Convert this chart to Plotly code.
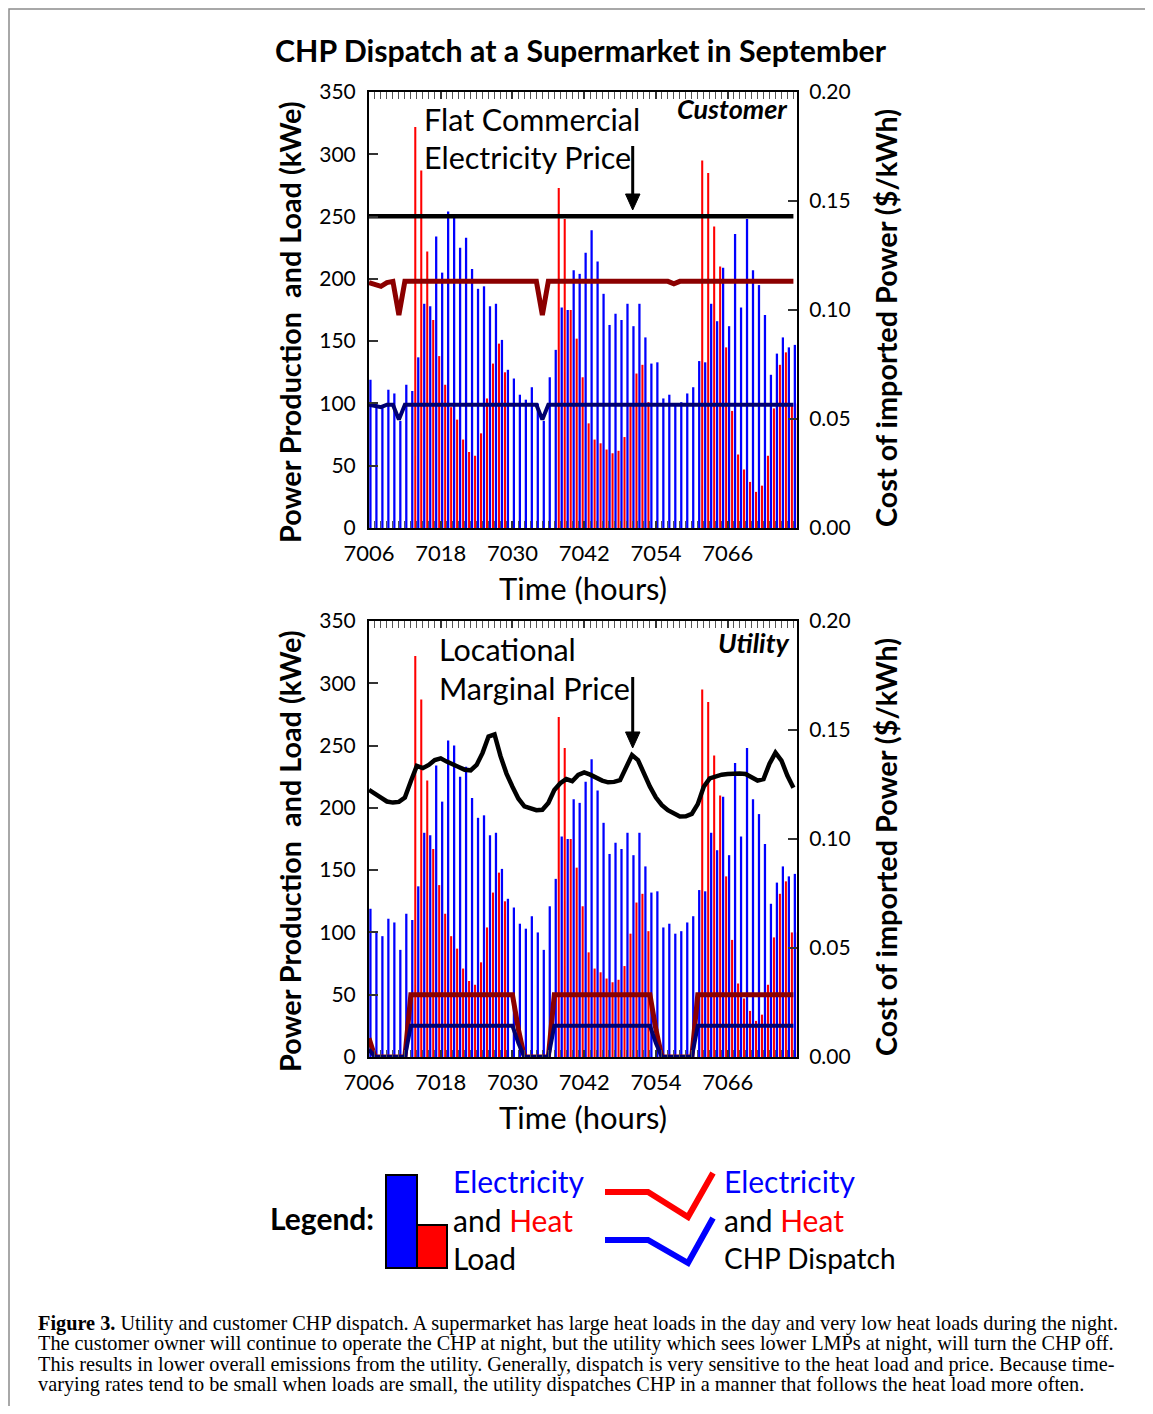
import plotly.graph_objects as go

# page is 1153x1414; browser body keeps its default 8px margin,
# so the figure is made 16px smaller and positions are shifted by 8px
PAGE_W, PAGE_H = 1153, 1414
MARGIN = 8
W, H = PAGE_W - 2 * MARGIN, PAGE_H - 2 * MARGIN

# ---------------- data ----------------
hours = list(range(7006, 7078))

elec_load = [119, 101, 97, 111, 108, 86, 115, 110, 137, 180, 178, 234, 205, 254, 250, 225,
             233, 208, 192, 194, 178, 180, 151, 127, 120, 107, 103, 113, 100, 86, 121, 143,
             177, 175, 207, 204, 221, 239, 214, 188, 163, 172, 167, 180, 162, 180, 153, 132,
             133, 104, 107, 99, 101, 108, 113, 134, 133, 180, 166, 209, 162, 236, 177, 248,
             207, 195, 171, 123, 140, 153, 145, 147]

heat_load = [0, 0, 0, 0, 0, 0, 0, 322, 287, 222, 167, 138, 115, 97, 87, 71,
             61, 58, 76, 104, 132, 148, 125, 0, 0, 0, 0, 0, 0, 0, 0, 273,
             248, 175, 152, 121, 84, 71, 68, 63, 60, 62, 73, 99, 124, 131, 101, 0,
             0, 0, 0, 0, 0, 0, 0, 295, 285, 242, 210, 145, 94, 59, 47, 37,
             29, 34, 58, 96, 131, 141, 100, 100]

# customer dispatch (flat commercial price)
cust_heat_chp = [197, 196, 194, 197, 198, 171, 198, 198, 198, 198, 198, 198, 198, 198, 198, 198,
                 198, 198, 198, 198, 198, 198, 198, 198, 198, 198, 198, 198, 198, 171, 198, 198,
                 198, 198, 198, 198, 198, 198, 198, 198, 198, 198, 198, 198, 198, 198, 198, 198,
                 198, 198, 198, 196, 198, 198, 198, 198, 198, 198, 198, 198, 198, 198, 198, 198,
                 198, 198, 198, 198, 198, 198, 198, 198]
cust_elec_chp = [99, 98, 97, 99, 99, 87, 99, 99, 99, 99, 99, 99, 99, 99, 99, 99,
                 99, 99, 99, 99, 99, 99, 99, 99, 99, 99, 99, 99, 99, 87, 99, 99,
                 99, 99, 99, 99, 99, 99, 99, 99, 99, 99, 99, 99, 99, 99, 99, 99,
                 99, 99, 99, 99, 99, 99, 99, 99, 99, 99, 99, 99, 99, 99, 99, 99,
                 99, 99, 99, 99, 99, 99, 99, 99]
flat_price = [0.143] * 72

# utility dispatch (locational marginal price)
util_heat_chp = [15, 0, 0, 0, 0, 0, 0, 50, 50, 50, 50, 50, 50, 50, 50, 50,
                 50, 50, 50, 50, 50, 50, 50, 50, 50, 22, 0, 0, 0, 0, 0, 50,
                 50, 50, 50, 50, 50, 50, 50, 50, 50, 50, 50, 50, 50, 50, 50, 50,
                 22, 0, 0, 0, 0, 0, 0, 50, 50, 50, 50, 50, 50, 50, 50, 50,
                 50, 50, 50, 50, 50, 50, 50, 50]
util_elec_chp = [6, 0, 0, 0, 0, 0, 0, 25, 25, 25, 25, 25, 25, 25, 25, 25,
                 25, 25, 25, 25, 25, 25, 25, 25, 25, 11, 0, 0, 0, 0, 0, 25,
                 25, 25, 25, 25, 25, 25, 25, 25, 25, 25, 25, 25, 25, 25, 25, 25,
                 11, 0, 0, 0, 0, 0, 0, 25, 25, 25, 25, 25, 25, 25, 25, 25,
                 25, 25, 25, 25, 25, 25, 25, 25]
lmp_price = [0.1225, 0.1210, 0.1190, 0.1172, 0.1167, 0.1170, 0.1190, 0.1265, 0.1335, 0.1325, 0.1340, 0.1362,
             0.1370, 0.1355, 0.1340, 0.1330, 0.1318, 0.1315, 0.1340, 0.1395, 0.1470, 0.1480, 0.1380, 0.1300,
             0.1240, 0.1185, 0.1150, 0.1140, 0.1132, 0.1134, 0.1165, 0.1225, 0.1256, 0.1275, 0.1265, 0.1294,
             0.1305, 0.1295, 0.1280, 0.1268, 0.1260, 0.1262, 0.1270, 0.1330, 0.1385, 0.1362, 0.1300, 0.1240,
             0.1190, 0.1155, 0.1132, 0.1115, 0.1103, 0.1104, 0.1115, 0.1160, 0.1240, 0.1278, 0.1289, 0.1295,
             0.1298, 0.1300, 0.1300, 0.1298, 0.1285, 0.1268, 0.1275, 0.1345, 0.1396, 0.1360, 0.1290, 0.1235]

x_ticks = [7006, 7018, 7030, 7042, 7054, 7066]

# ---------------- helpers (page pixel -> paper) ----------------
def X(px):
    return (px - MARGIN) / W

def Y(py):
    return 1 - (py - MARGIN) / H

FONT = "Lato"
BLUE = "#0000ff"
RED = "#ff0000"
DRED = "#8b0000"
NAVY = "#000070"

fig = go.Figure()

panels = [
    dict(xa="x", ya="y", ya2="y2", heat=cust_heat_chp, elec=cust_elec_chp, price=flat_price),
    dict(xa="x2", ya="y3", ya2="y4", heat=util_heat_chp, elec=util_elec_chp, price=lmp_price),
]
for p in panels:
    fig.add_trace(go.Bar(x=hours, y=elec_load, xaxis=p["xa"], yaxis=p["ya"], marker_color=BLUE,
                         marker_line_width=0, width=0.38, offset=0.05, showlegend=False))
    fig.add_trace(go.Bar(x=hours, y=heat_load, xaxis=p["xa"], yaxis=p["ya"], marker_color=RED,
                         marker_line_width=0, width=0.345, offset=0.57, showlegend=False))
    fig.add_trace(go.Scatter(x=hours, y=p["heat"], xaxis=p["xa"], yaxis=p["ya"], mode="lines",
                             line=dict(color=DRED, width=5), showlegend=False))
    fig.add_trace(go.Scatter(x=hours, y=p["elec"], xaxis=p["xa"], yaxis=p["ya"], mode="lines",
                             line=dict(color=NAVY, width=4), showlegend=False))
    fig.add_trace(go.Scatter(x=hours, y=p["price"], xaxis=p["xa"], yaxis=p["ya2"], mode="lines",
                             line=dict(color="black", width=4.5), showlegend=False))

xtickfont = dict(family=FONT, size=22, color="black")
ytickfont = dict(family=FONT, size=21, color="black")

def xax(anchor):
    return dict(domain=[X(369), X(797)], range=[7006, 7077.6], anchor=anchor, automargin=False,
                tickvals=x_ticks, ticks="inside", ticklen=7, tickwidth=1.5, tickcolor="#333",
                minor=dict(dtick=1, tick0=7006, ticks="inside", ticklen=3, tickcolor="#555", tickwidth=1),
                mirror="allticks", showline=True, linecolor="black", linewidth=2,
                showgrid=False, zeroline=False, tickfont=xtickfont, ticklabelstandoff=5)

def yax(anchor, top, bot):
    return dict(domain=[Y(bot), Y(top)], range=[0, 350], dtick=50, tick0=0, anchor=anchor,
                automargin=False, ticks="inside", ticklen=9, tickwidth=1.5, tickcolor="#333",
                showline=True, linecolor="black", linewidth=2, showgrid=False, zeroline=False,
                tickfont=ytickfont, ticklabelstandoff=7)

def yax2(over, anchor):
    return dict(overlaying=over, side="right", anchor=anchor, range=[0, 0.2], dtick=0.05, tick0=0,
                automargin=False, tickformat=".2f", ticks="inside", ticklen=9, tickwidth=1.5,
                tickcolor="#333", showline=True, linecolor="black", linewidth=2, showgrid=False,
                zeroline=False, tickfont=ytickfont, ticklabelstandoff=6)

annotations = []

def txt(text, px, py, size, xanchor="center", color="black", angle=0, family=FONT):
    annotations.append(dict(text=text, x=X(px), y=Y(py), xref="paper", yref="paper",
                            xanchor=xanchor, yanchor="middle", showarrow=False, textangle=angle,
                            font=dict(family=family, size=size, color=color)))

txt("<b>CHP Dispatch at a Supermarket in September</b>", 581, 50, 30.3)
for off in (0, 529):
    txt("<b>Power Production&nbsp;&nbsp;and Load (kWe)</b>", 290, 322 + off, 28.8, angle=-90)
    txt("<b>Cost of imported Power ($/kWh)</b>", 886, 318 + off, 28.8, angle=-90)
    txt("Time (hours)", 583, 588 + off, 31)

txt("Flat Commercial", 422, 119, 30.5, xanchor="left")
txt("Electricity Price", 422, 157, 30.5, xanchor="left")
txt("<b><i>Customer</i></b>", 790, 109, 27, xanchor="right")
txt("Locational", 437, 649, 30.5, xanchor="left")
txt("Marginal Price", 437, 688, 30.5, xanchor="left")
txt("<b><i>Utility</i></b>", 792, 642, 27, xanchor="right")

# legend
txt("<b>Legend:</b>", 268, 1218, 30, xanchor="left")
txt("Electricity", 451, 1181, 30, xanchor="left", color=BLUE)
txt("and <span style='color:#ff0000'>Heat</span>", 451, 1220, 30, xanchor="left")
txt("Load", 451, 1258, 30, xanchor="left")
txt("Electricity", 722, 1181, 30, xanchor="left", color=BLUE)
txt("and <span style='color:#ff0000'>Heat</span>", 722, 1220, 30, xanchor="left")
txt("CHP Dispatch", 722, 1258, 28, xanchor="left")

# caption
SERIF = "Liberation Serif"
cap = [
    "<b>Figure 3.</b> Utility and customer CHP dispatch. A supermarket has large heat loads in the day and very low heat loads during the night.",
    "The customer owner will continue to operate the CHP at night, but the utility which sees lower LMPs at night, will turn the CHP off.",
    "This results in lower overall emissions from the utility. Generally, dispatch is very sensitive to the heat load and price. Because time-",
    "varying rates tend to be small when loads are small, the utility dispatches CHP in a manner that follows the heat load more often.",
]
for i, line in enumerate(cap):
    txt(line, 36, 1323 + i * 20.6, 20.3, xanchor="left", family=SERIF)

shapes = []

def pline(pts, color, width):
    path = "M " + " L ".join(f"{X(a):.5f},{Y(b):.5f}" for a, b in pts)
    shapes.append(dict(type="path", path=path, xref="paper", yref="paper",
                       line=dict(color=color, width=width)))

def tri(pts, color):
    path = "M " + " L ".join(f"{X(a):.5f},{Y(b):.5f}" for a, b in pts) + " Z"
    shapes.append(dict(type="path", path=path, xref="paper", yref="paper",
                       fillcolor=color, line=dict(color=color, width=1)))

# frame border
pline([(9, 1420), (9, 9), (1160, 9)], "#8c8c8c", 1.5)

# arrows
pline([(632.7, 146), (632.7, 197)], "black", 3)
tri([(625.5, 194), (640, 194), (632.7, 210)], "black")
pline([(632.7, 677), (632.7, 735)], "black", 3)
tri([(625.5, 732), (640, 732), (632.7, 748)], "black")

# legend boxes
shapes.append(dict(type="rect", xref="paper", yref="paper", x0=X(386), x1=X(417), y0=Y(1268), y1=Y(1175),
                   fillcolor=BLUE, line=dict(color="black", width=2)))
shapes.append(dict(type="rect", xref="paper", yref="paper", x0=X(417), x1=X(447), y0=Y(1268), y1=Y(1225),
                   fillcolor=RED, line=dict(color="black", width=2)))
pline([(605, 1192), (648, 1192), (688, 1217), (713, 1173)], RED, 6)
pline([(605, 1240), (648, 1240), (688, 1263), (713, 1218)], BLUE, 6)

fig.update_layout(
    width=W, height=H, margin=dict(l=0, r=0, t=0, b=0, pad=0, autoexpand=False),
    paper_bgcolor="white", plot_bgcolor="white", barmode="overlay", bargap=0.05,
    xaxis=xax("y"), yaxis=yax("x", 92, 528), yaxis2=yax2("y", "x"),
    xaxis2=xax("y3"), yaxis3=yax("x2", 621, 1057), yaxis4=yax2("y3", "x2"),
    annotations=annotations, shapes=shapes, showlegend=False,
)

fig.write_html("out.html", config={"displayModeBar": False})
